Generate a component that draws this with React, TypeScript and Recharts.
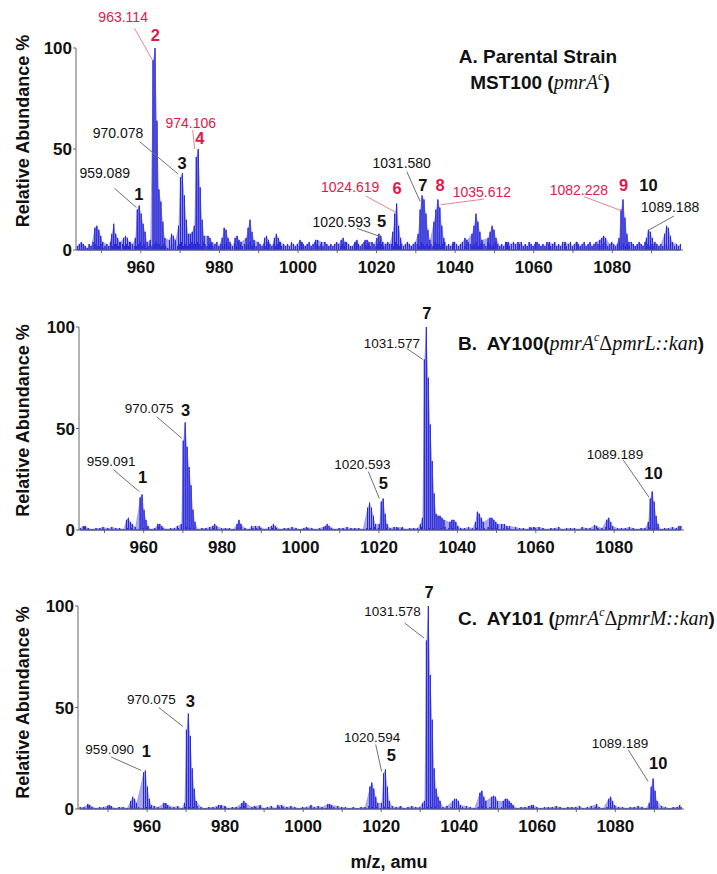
import React from 'react';
import { ComposedChart, Line, Area, XAxis, YAxis, ReferenceLine, ReferenceDot } from 'recharts';

const SANS = '"Liberation Sans", Arial, Helvetica, sans-serif';
const SERIF = '"Liberation Serif", "Times New Roman", serif';
const BLUE = '#2a2ad8';
const LAV = '#a8a8f0';
const RED = '#e3174a';
const RED_LINE = '#e8839a';
const GRAY_LINE = '#707070';
const INK = '#111111';

// ---- axes ----
const X_TICKS = [950, 960, 970, 980, 990, 1000, 1010, 1020, 1030, 1040, 1050, 1060, 1070, 1080, 1090];
const X_LABELED = [960, 980, 1000, 1020, 1040, 1060, 1080];
const Y_TICKS = [0, 50, 100];

// ---- Panel A: peaks [m/z, relative abundance %] ----
const peaksA: number[][] = [
  [948.3, 11], [948.8, 12], [949.3, 10], [949.8, 7], [950.3, 4],
  [952.6, 8], [953.1, 13], [953.6, 8], [954.1, 6], [954.6, 4],
  [955.6, 6], [956.1, 7], [956.6, 6], [957.1, 4],
  [958.6, 6], [959.09, 20], [959.59, 22], [960.09, 18], [960.59, 13], [961.09, 9], [961.59, 4],
  [962.4, 5], [963.11, 94], [963.61, 100], [964.11, 64], [964.61, 30], [965.11, 24], [965.61, 14], [966.11, 6],
  [967.3, 5], [967.8, 8], [968.3, 7], [968.8, 5],
  [969.58, 12], [970.08, 36], [970.58, 38], [971.08, 27], [971.58, 15], [972.08, 8],
  [972.6, 8], [973.1, 9], [973.6, 12], [974.11, 46], [974.61, 50], [975.11, 31], [975.61, 15], [976.11, 7],
  [977.1, 7], [977.6, 6], [978.1, 4],
  [980.7, 6], [981.2, 11], [981.7, 10], [982.2, 6], [982.7, 4],
  [984.0, 6], [984.5, 7], [985.0, 5], [985.5, 4],
  [986.8, 6], [987.3, 11], [987.8, 15], [988.3, 9], [988.8, 5],
  [991.5, 6], [992.0, 7], [992.5, 5],
  [994.0, 6], [994.5, 8], [995.0, 6], [995.5, 4],
  [1000.5, 5], [1001.0, 4], [1004.5, 5], [1005.0, 5], [1006.0, 4],
  [1011.0, 5], [1011.5, 6], [1012.0, 4], [1014.5, 4], [1015.0, 5],
  [1017.1, 5], [1017.6, 5], [1018.1, 4],
  [1020.09, 6], [1020.59, 8], [1021.09, 7], [1021.59, 4],
  [1024.12, 9], [1024.62, 18], [1025.12, 23], [1025.62, 12], [1026.12, 6],
  [1030.58, 8], [1031.08, 20], [1031.58, 27], [1032.08, 25], [1032.58, 18], [1033.08, 10], [1033.58, 5],
  [1034.61, 14], [1035.11, 20], [1035.61, 25], [1036.11, 21], [1036.61, 12], [1037.11, 6],
  [1039.5, 4], [1042.5, 6], [1043.0, 5],
  [1044.3, 8], [1044.8, 12], [1045.3, 18], [1045.8, 14], [1046.3, 9], [1046.8, 5],
  [1048.4, 6], [1048.9, 9], [1049.4, 12], [1049.9, 10], [1050.4, 6],
  [1053.0, 4], [1053.5, 4], [1056.0, 4], [1060.5, 4], [1064.0, 4], [1068.0, 4], [1071.0, 4],
  [1076.8, 5], [1077.3, 6], [1077.8, 7], [1078.3, 6],
  [1081.73, 6], [1082.23, 20], [1082.73, 25], [1083.23, 16], [1083.73, 8], [1084.23, 4],
  [1088.69, 6], [1089.19, 10], [1089.69, 9], [1090.19, 6], [1090.69, 3],
  [1093.3, 8], [1093.8, 12], [1094.3, 11], [1094.8, 7], [1095.3, 4],
];
// baseline noise, sampled every 0.5 from 943.85
const noiseStartA = 943.85;
const noiseStepA = 0.5;
const noiseA: number[] = [
  2, 3, 4, 3, 2, 1, 3, 2, 4, 3, 2, 2, 3, 1, 2, 3, 2, 4, 2, 3,
  3, 2, 4, 3, 2, 3, 2, 4, 3, 2, 2, 3, 4, 2, 3, 1, 2, 3, 2, 3,
  4, 3, 3, 2, 3, 2, 1, 2, 3, 4, 3, 2, 3, 4, 2, 3, 2, 3, 4, 3,
  3, 4, 3, 2, 4, 3, 2, 3, 3, 2, 3, 4, 2, 3, 2, 3, 4, 2, 3, 2,
  3, 2, 4, 3, 2, 3, 2, 3, 4, 2, 3, 2, 4, 3, 2, 3, 2, 4, 3, 2,
  3, 2, 3, 4, 2, 3, 2, 3, 2, 4, 3, 2, 3, 2, 4, 3, 2, 3, 4, 2,
  3, 4, 3, 2, 3, 2, 4, 3, 2, 3, 2, 3, 4, 3, 2, 3, 2, 4, 3, 2,
  2, 3, 4, 3, 2, 3, 4, 2, 3, 2, 4, 3, 2, 3, 4, 3, 2, 3, 4, 3,
  3, 2, 4, 3, 2, 3, 2, 3, 4, 3, 2, 3, 4, 3, 2, 4, 3, 2, 3, 2,
  3, 2, 4, 3, 3, 2, 3, 4, 2, 3, 2, 3, 4, 3, 2, 3, 4, 2, 3, 4,
  3, 2, 3, 4, 2, 3, 4, 3, 2, 4, 3, 2, 3, 4, 3, 2, 3, 2, 4, 3,
  2, 3, 4, 3, 2, 3, 4, 2, 3, 2, 4, 3, 2, 3, 4, 3, 2, 3, 2, 4,
  3, 2, 3, 4, 2, 3, 2, 4, 3, 2, 3, 4, 2, 3, 4, 3, 2, 3, 4, 2,
  3, 4, 2, 3, 4, 3, 2, 3, 4, 3, 2, 3, 4, 3, 2, 3, 4, 2, 3, 2,
  3, 2, 4, 3, 2, 3, 4, 3, 2, 4, 3, 2, 3, 2, 4, 3, 2, 3, 2, 3,
  2, 3, 4, 3, 2, 3, 2, 3,
];

// ---- Panel B ----
const peaksB: number[][] = [
  [944.6, 2], [945.1, 2], [949.6, 1.5],
  [955.6, 5], [956.1, 6], [956.6, 4], [957.1, 3],
  [959.09, 16], [959.59, 17.5], [960.09, 10], [960.59, 5], [961.09, 2],
  [963.6, 3], [964.1, 3], [964.6, 2],
  [968.6, 2], [969.58, 3],
  [970.08, 44], [970.58, 53], [971.08, 41], [971.58, 31], [972.08, 22], [972.58, 10], [973.08, 4],
  [977.6, 2], [978.1, 3], [978.6, 2],
  [983.8, 3], [984.3, 5], [984.8, 3],
  [987.5, 2], [988.5, 2], [989.5, 2],
  [992.6, 2], [993.1, 3], [993.6, 2],
  [1001.5, 1.5], [1006.3, 2], [1006.8, 3], [1007.3, 2],
  [1017.1, 11], [1017.6, 13.5], [1018.1, 11], [1018.6, 7], [1019.1, 3],
  [1020.09, 3], [1020.59, 14], [1021.09, 15.5], [1021.59, 8], [1022.09, 3],
  [1024.5, 1.5], [1026.0, 1.5],
  [1030.58, 3], [1031.08, 6], [1031.58, 84], [1032.08, 100], [1032.58, 75], [1033.08, 52],
  [1033.58, 34], [1034.08, 18], [1034.58, 8], [1035.08, 7], [1035.58, 7], [1036.08, 6], [1036.58, 5],
  [1038.1, 4], [1038.6, 5], [1039.1, 5], [1039.6, 4], [1040.1, 2],
  [1044.6, 4], [1045.1, 9], [1045.6, 8], [1046.1, 6], [1046.6, 4],
  [1048.3, 6], [1048.8, 6], [1049.3, 5], [1049.8, 4], [1050.3, 3],
  [1051.3, 3], [1052.0, 3], [1052.6, 2], [1053.3, 2],
  [1058.5, 1.5], [1059.5, 1.5], [1075.0, 2.5], [1075.5, 2],
  [1078.1, 5], [1078.6, 6], [1079.1, 4], [1079.6, 2],
  [1088.69, 4], [1089.19, 15.5], [1089.69, 19], [1090.19, 14], [1090.69, 7], [1091.19, 3],
  [1096.5, 2], [1097.0, 2],
];
const noiseStartB = 943.85;
const noiseStepB = 1;
const noiseB: number[] = [
  1, 1.5, 1, 0.5, 1, 1, 0.5, 1, 1.5, 1,
  1, 0.5, 1, 1, 1.5, 0.5, 1, 1, 0.5, 1,
  1.5, 1, 0.5, 1, 1, 1, 0.5, 1.5, 1, 1,
  0.5, 1, 1, 1.5, 1, 0.5, 1, 1, 1, 0.5,
  1, 1.5, 1, 0.5, 1, 1, 1, 0.5, 1.5, 1,
  1, 0.5, 1, 1, 1.5, 1, 0.5, 1, 1, 1,
  0.5, 1, 1.5, 1, 1, 0.5, 1, 1, 1.5, 1,
  1, 1, 0.5, 1, 1, 1.5, 1, 0.5, 1, 1,
  1.5, 1, 1, 0.5, 1, 1, 1, 1.5, 0.5, 1,
  1, 0.5, 1, 1.5, 1, 1, 0.5, 1, 1, 1.5,
  1, 1, 0.5, 1, 1.5, 1, 1, 0.5, 1, 1,
  0.5, 1.5, 1, 1, 0.5, 1, 1, 1.5, 1, 0.5,
  1, 1, 1.5, 0.5, 1, 1, 1, 0.5, 1.5, 1,
  1, 0.5, 1, 1, 1.5, 1, 0.5, 1, 1, 1,
  1.5, 1, 0.5, 1, 1, 1.5, 1, 1, 0.5, 1,
  1, 1.5, 1, 0.5,
];

// ---- Panel C ----
const peaksC: number[][] = [
  [944.8, 2.5], [945.3, 2], [950.3, 2], [950.8, 1.5],
  [955.8, 4], [956.3, 6], [956.8, 5], [957.3, 3],
  [959.09, 18], [959.59, 19], [960.09, 11], [960.59, 5], [961.09, 2],
  [964.3, 3], [964.8, 3], [965.3, 2],
  [969.58, 3], [970.08, 39], [970.58, 47], [971.08, 36], [971.58, 20], [972.08, 10], [972.58, 4],
  [978.3, 2], [979.0, 2], [980.0, 1.5],
  [984.3, 3], [984.8, 4], [985.3, 3],
  [987.5, 1.5], [989.0, 2], [993.5, 2], [994.5, 2], [1002.0, 2],
  [1006.3, 2.5], [1006.8, 2.5], [1007.3, 2],
  [1017.1, 11], [1017.6, 13], [1018.1, 10], [1018.6, 6], [1019.1, 3],
  [1020.09, 3], [1020.59, 17.5], [1021.09, 19.5], [1021.59, 11], [1022.09, 4],
  [1025.0, 1.5],
  [1030.58, 3], [1031.08, 4], [1031.58, 83], [1032.08, 100], [1032.58, 66], [1033.08, 44],
  [1033.58, 20], [1034.08, 10], [1034.58, 6], [1035.08, 4],
  [1038.3, 4], [1038.8, 5], [1039.3, 5], [1039.8, 4], [1040.3, 2],
  [1045.3, 8], [1045.8, 9], [1046.3, 6], [1046.8, 4],
  [1048.3, 6], [1048.8, 6.5], [1049.3, 6], [1049.8, 4],
  [1051.3, 4], [1051.8, 5], [1052.3, 5], [1052.8, 4], [1053.3, 3], [1053.8, 2],
  [1058.5, 2], [1059.0, 2], [1075.2, 2.5],
  [1078.3, 5], [1078.8, 6], [1079.3, 4], [1079.8, 2],
  [1088.69, 3], [1089.19, 11], [1089.69, 15], [1090.19, 9], [1090.69, 4],
  [1096.5, 2],
];
const noiseStartC = 942.85;
const noiseStepC = 1;
const noiseC: number[] = [
  1, 1, 1.5, 1, 0.5, 1, 1, 1.5, 1, 0.5,
  1, 1, 0.5, 1.5, 1, 1, 0.5, 1, 1, 1.5,
  1, 0.5, 1, 1, 1, 1.5, 0.5, 1, 1, 1,
  1.5, 1, 0.5, 1, 1, 1, 1.5, 1, 0.5, 1,
  1, 1, 1.5, 0.5, 1, 1, 1, 0.5, 1, 1.5,
  0.5, 1, 1, 1, 1.5, 1, 0.5, 1, 1, 1,
  1, 1.5, 1, 0.5, 1, 1, 1.5, 1, 1, 0.5,
  1, 0.5, 1, 1, 1.5, 1, 1, 0.5, 1, 1,
  1.5, 1, 1, 0.5, 1, 1.5, 1, 1, 0.5, 1,
  1, 1, 0.5, 1, 1.5, 1, 0.5, 1, 1, 1.5,
  1, 0.5, 1, 1.5, 1, 1, 1, 0.5, 1, 1,
  1.5, 1, 0.5, 1, 1, 1.5, 1, 1, 0.5, 1,
  1, 1, 1.5, 1, 0.5, 1, 1, 1, 1.5, 0.5,
  1, 1.5, 1, 1, 0.5, 1, 1, 1.5, 1, 1,
  0.5, 1, 1, 1.5, 1, 0.5, 1, 1, 1, 1.5,
  1, 0.5, 1, 1, 1,
];

// ---- annotations: [text, m/z, abundance, red?, bold index?] ----
type Note = [string, number, number, boolean, boolean];
type Leader = [number, number, number, number, boolean];

const notesA: Note[] = [
  ['963.114', 955.5, 115.5, true, false], ['2', 963.7, 106.4, true, true],
  ['970.078', 954.2, 57.8, false, false], ['3', 970.5, 42.9, false, true],
  ['974.106', 972.7, 63, true, false], ['4', 975.0, 55.3, true, true],
  ['959.089', 950.8, 38, false, false], ['1', 959.5, 27.6, false, true],
  ['1020.593', 1011.1, 14, false, false], ['5', 1021.3, 14.4, false, true],
  ['1024.619', 1013.3, 31.3, true, false], ['6', 1025.2, 30.5, true, true],
  ['1031.580', 1026.4, 43, false, false], ['7', 1031.8, 32.2, false, true],
  ['8', 1036.2, 32.2, true, true], ['1035.612', 1046.8, 28.9, true, false],
  ['1082.228', 1071.5, 29.7, true, false], ['9', 1082.9, 32.2, true, true],
  ['10', 1089.2, 32.2, false, true], ['1089.188', 1094.7, 21.1, false, false],
];
const leadersA: Leader[] = [
  [958.4, 109.7, 962.96, 94, true],
  [959.7, 53.6, 969.5, 37.6, false],
  [973.2, 59.4, 973.7, 50, true],
  [953.3, 30.5, 958.9, 21, false],
  [1015.0, 10.7, 1020.5, 7, false],
  [1017.3, 26.7, 1025.0, 18.5, true],
  [1027.7, 38.8, 1031.1, 24, false],
  [1047.3, 25.2, 1036.4, 22.4, true],
  [1072.8, 26.4, 1082.3, 19.5, true],
  [1095.7, 16.8, 1089.3, 9.9, false],
];
const notesB: Note[] = [
  ['959.091', 951.7, 33.6, false, false], ['1', 959.7, 26.3, false, true],
  ['970.075', 961.4, 60, false, false], ['3', 970.7, 59.1, false, true],
  ['1020.593', 1015.8, 32.4, false, false], ['5', 1021.1, 23, false, true],
  ['1031.577', 1023.3, 92, false, false], ['7', 1032.2, 106.7, false, true],
  ['1089.189', 1080.2, 37.4, false, false], ['10', 1090.0, 27.9, false, true],
];
const leadersB: Leader[] = [
  [952.3, 29.7, 958.9, 18.9, false],
  [963.3, 55.8, 969.7, 45.2, false],
  [1017.3, 28.7, 1020.1, 15.6, false],
  [1027.1, 89.4, 1031.2, 84, false],
  [1082.3, 34.5, 1088.9, 16.1, false],
];
const notesC: Note[] = [
  ['959.090', 950.4, 29.2, false, false], ['1', 959.8, 28.4, false, true],
  ['970.075', 961.1, 53.8, false, false], ['3', 971.1, 53, false, true],
  ['1020.594', 1017.7, 35, false, false], ['5', 1022.6, 26.7, false, true],
  ['1031.578', 1022.9, 97.3, false, false], ['7', 1032.3, 106.7, false, true],
  ['1089.189', 1081.2, 32.5, false, false], ['10', 1091.0, 22.7, false, true],
];
const leadersC: Leader[] = [
  [950.8, 25.6, 958.5, 19, false],
  [963.0, 50, 969.2, 40.7, false],
  [1018.6, 31.7, 1020.1, 18.5, false],
  [1026.0, 91.6, 1031.0, 84.2, false],
  [1083.3, 29.2, 1088.4, 13.6, false],
];

type Pt = { mz: number; y: number; noise?: boolean };
function build(peaks: number[][], noise: number[], start: number, step: number) {
  const pk: Pt[] = peaks.map(([mz, y]) => ({ mz, y }));
  const nz: Pt[] = noise.map((y, i) => ({ mz: start + i * step, y, noise: true }));
  const all = [...pk, ...nz].sort((a, b) => a.mz - b.mz);
  const line = all.flatMap((p) => [{ mz: p.mz, y: 0 }, { mz: p.mz, y: p.y }, { mz: p.mz, y: 0 }]);
  const env = all
    .filter((p) => !p.noise || !pk.some((q) => Math.abs(q.mz - p.mz) < 0.6 && q.y > p.y))
    .map((p) => ({ mz: p.mz, y: p.y }));
  return { line, env };
}

const dataA = build(peaksA, noiseA, noiseStartA, noiseStepA);
const dataB = build(peaksB, noiseB, noiseStartB, noiseStepB);
const dataC = build(peaksC, noiseC, noiseStartC, noiseStepC);

const tickStyle = { fontSize: 17, fontWeight: 700, fill: INK, fontFamily: SANS };

type PanelProps = {
  top: number; height: number; marginTop: number; marginRight: number; yWidth: number;
  domain: [number, number]; data: { line: Pt[]; env: Pt[] }; notes: Note[]; leaders: Leader[];
  labelDy: number; noteSize: number;
};

function Panel({ top, height, marginTop, marginRight, yWidth, domain, data, notes, leaders, labelDy, noteSize }: PanelProps) {
  const yTitle = (p: any) => {
    const vb = p && p.viewBox ? p.viewBox : { x: 0, y: 0, width: 0, height: 0 };
    const cx = (vb.x || 0) + 29;
    const cy = (vb.y || 0) + (vb.height || 0) / 2 + labelDy;
    return (
      <text x={cx} y={cy} transform={`rotate(-90 ${cx} ${cy})`} textAnchor="middle"
        fontSize={18} fontWeight={700} fill={INK} fontFamily={SANS}>Relative Abundance %</text>
    );
  };
  return (
    <div style={{ position: 'absolute', left: 0, top, width: 717, height }}>
      <ComposedChart width={717} height={height} margin={{ top: marginTop, right: marginRight, bottom: 10, left: 0 }}>
        <XAxis type="number" dataKey="mz" domain={domain} allowDataOverflow ticks={X_TICKS} interval={0}
          tickFormatter={(v: number) => (X_LABELED.includes(v) ? String(v) : '')}
          tickSize={3} tickMargin={8} height={30}
          axisLine={{ stroke: '#666' }} tickLine={{ stroke: '#666' }} tick={tickStyle} />
        <YAxis type="number" domain={[0, 100]} ticks={Y_TICKS} interval={0} width={yWidth}
          tickSize={3} tickMargin={1} axisLine={{ stroke: '#666' }} tickLine={{ stroke: '#666' }}
          tick={tickStyle} label={yTitle} />
        <Area data={data.env} dataKey="y" type="linear" stroke="none" fill={LAV} fillOpacity={1}
          isAnimationActive={false} />
        <Line data={data.line} dataKey="y" type="linear" stroke={BLUE} strokeWidth={1} dot={false}
          activeDot={false} isAnimationActive={false} />
        {leaders.map((l, i) => (
          <ReferenceLine key={'l' + i} segment={[{ x: l[0], y: l[1] }, { x: l[2], y: l[3] }]}
            stroke={l[4] ? RED_LINE : GRAY_LINE} strokeWidth={1} ifOverflow="visible" />
        ))}
        {notes.map((n, i) => (
          <ReferenceDot key={'n' + i} x={n[1]} y={n[2]} r={0} fill="none" stroke="none" ifOverflow="visible"
            label={(p: any) => {
              const vb = p && p.viewBox ? p.viewBox : { x: 0, y: 0 };
              return (
                <text x={vb.x} y={vb.y} textAnchor="middle" dominantBaseline="central"
                  fontSize={n[4] ? 16.5 : noteSize} fontWeight={n[4] ? 700 : 400}
                  fill={n[3] ? RED : INK} fontFamily={SANS}>{n[0]}</text>
              );
            }} />
        ))}
      </ComposedChart>
    </div>
  );
}

const titleStyle: React.CSSProperties = {
  position: 'absolute', fontFamily: SANS, fontWeight: 700, fontSize: 19, lineHeight: '22px',
  color: INK, whiteSpace: 'pre',
};
const it: React.CSSProperties = { fontFamily: SERIF, fontStyle: 'italic', fontWeight: 400, fontSize: 20 };
const up: React.CSSProperties = { fontFamily: SERIF, fontWeight: 400, fontSize: 20 };
const sup: React.CSSProperties = { fontFamily: SERIF, fontStyle: 'italic', fontWeight: 400, fontSize: 12, position: 'relative', top: -9 };

export default function App() {
  return (
    <div style={{ position: 'absolute', left: 0, top: 0, width: 717, height: 874, background: '#fff', overflow: 'hidden' }}>
      <Panel top={0} height={290} marginTop={48} marginRight={34} yWidth={76} domain={[943.5, 1098]}
        data={dataA} notes={notesA} leaders={leadersA} labelDy={-18} noteSize={14} />
      <Panel top={280} height={290} marginTop={47} marginRight={33} yWidth={79} domain={[943.5, 1097.8]}
        data={dataB} notes={notesB} leaders={leadersB} labelDy={-8} noteSize={13.5} />
      <Panel top={560} height={289} marginTop={46} marginRight={33} yWidth={78} domain={[942.3, 1097.6]}
        data={dataC} notes={notesC} leaders={leadersC} labelDy={-5} noteSize={13.5} />

      <div style={{ ...titleStyle, left: 418, width: 240, top: 46, textAlign: 'center' }}>A. Parental Strain</div>
      <div style={{ ...titleStyle, left: 420, width: 240, top: 71, textAlign: 'center' }}>
        MST100 (<span style={it}>pmrA</span><span style={sup}>c</span>)
      </div>
      <div style={{ ...titleStyle, left: 458, top: 332 }}>
        {'B.  AY100('}<span style={it}>pmrA</span><span style={sup}>c</span><span style={up}>Δ</span><span style={it}>pmrL::kan</span>)
      </div>
      <div style={{ ...titleStyle, left: 458, top: 607 }}>
        {'C.  AY101 ('}<span style={it}>pmrA</span><span style={sup}>c</span><span style={up}>Δ</span><span style={it}>pmrM::kan</span>)
      </div>
      <div style={{ ...titleStyle, fontSize: 18, lineHeight: '20px', left: 289, width: 200, top: 852, textAlign: 'center' }}>m/z, amu</div>
    </div>
  );
}
